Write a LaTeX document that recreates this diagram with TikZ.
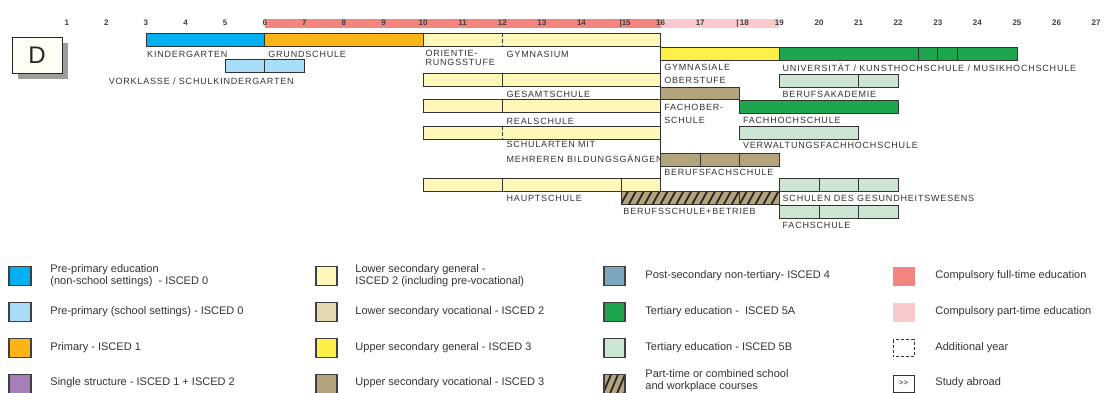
\documentclass[tikz,border=0pt]{standalone}
\usepackage{fontspec}
\setmainfont{Liberation Sans}
\newfontfamily\barfont[LetterSpace=9]{Liberation Sans}

\definecolor{kigablue}{RGB}{0,176,240}
\definecolor{vorblue}{RGB}{168,221,247}
\definecolor{primorange}{RGB}{252,180,22}
\definecolor{singlepurple}{RGB}{166,126,185}
\definecolor{lowgen}{RGB}{255,247,183}
\definecolor{lowvoc}{RGB}{227,216,174}
\definecolor{upgen}{RGB}{255,240,72}
\definecolor{upvoc}{RGB}{180,164,124}
\definecolor{postsec}{RGB}{123,167,188}
\definecolor{tertA}{RGB}{30,166,78}
\definecolor{tertB}{RGB}{204,230,211}
\definecolor{compfull}{RGB}{244,132,127}
\definecolor{comppart}{RGB}{249,201,205}

\begin{document}
\begin{tikzpicture}[
    x=1pt, y=-1pt,
    line width=0.9pt,
    year/.style={font=\fontsize{8}{8}\selectfont\bfseries,text=black!75,inner sep=0pt},
    school/.style={font=\barfont\fontsize{9}{9.5}\selectfont,text=black!80,
        anchor=west,inner sep=0pt,align=left},
    bar/.style={draw=black!80},
    legend/.style={font=\fontsize{11}{12}\selectfont,text=black!80,
        anchor=west,inner sep=0pt,align=left},
    swatch/.style={draw=black!75,line width=1.3pt}
]

\useasboundingbox (0,0) rectangle (1104,392);

% country box
\fill[black!38] (18,43) rectangle (68,79);
\node[draw=black!85,fill=white!96!yellow,line width=1pt,
      minimum width=50pt,minimum height=36pt,inner sep=0pt,
      font=\fontsize{24}{24}\selectfont,text=black!85] (country) at (37,55) {D};

\begin{scope}[xshift=27.2pt,x=39.59pt]

% compulsory schooling and ages
\fill[compfull] (6,19) rectangle (16,28);
\fill[comppart] (16,19) rectangle (19,28);
\foreach \a in {1,...,14,16,17,19,20,...,27}
    \node[year] (age\a) at (\a,23) {\a};
\node[year,anchor=west] (age15) at (14.95,23) {|15};
\node[year,anchor=west] (age18) at (17.9,23) {|\,18};

% pre-primary and primary
\draw[bar,fill=kigablue] (3,33) rectangle (6,46);
\draw[bar,fill=primorange] (6,33) rectangle (10,46);
\draw[bar,fill=vorblue] (5,59) rectangle (7,72);
\draw[bar] (6,59) -- (6,72);
\node[school] (kiga) at (3.02,54) {KINDERGARTEN};
\node[school] (grund) at (6.08,54) {GRUNDSCHULE};
\node[school] (vorklasse) at (2.05,81) {VORKLASSE / SCHULKINDERGARTEN};

% lower secondary
\foreach \r in {33,73,99,126,178}
    \draw[bar,fill=lowgen] (10,\r) rectangle (16,\r+13);
\draw[bar,dash pattern=on 4pt off 2pt] (12,33) -- (12,46);
\draw[bar] (12,73) -- (12,86);
\draw[bar] (12,99) -- (12,112);
\draw[bar,dash pattern=on 4pt off 2pt] (12,126) -- (12,139);
\draw[bar] (12,178) -- (12,191);
\draw[bar] (15,178) -- (15,191);
\draw[bar] (16,33) -- (16,191);
\node[school] (orient) at (10.05,58) {ORIENTIE-\\RUNGSSTUFE};
\node[school] (gymn) at (12.1,54) {GYMNASIUM};
\node[school] (gesamt) at (12.1,94) {GESAMTSCHULE};
\node[school] (real) at (12.1,121) {REALSCHULE};
\node[school] (mehrere) at (12.1,151.5) {SCHULARTEN MIT\\[5.5pt]MEHREREN BILDUNGSGÄNGEN};
\node[school] (haupt) at (12.1,198) {HAUPTSCHULE};

% upper secondary
\draw[bar,fill=upgen] (16,47) rectangle (19,60);
\draw[bar,fill=upvoc] (16,87) rectangle (18,99);
\draw[bar,fill=upvoc] (16,153) rectangle (19,166);
\draw[bar] (17,153) -- (17,166) (18,153) -- (18,166);
\begin{scope}
    \clip (15,191) rectangle (19,204);
    \fill[upvoc] (15,191) rectangle (19,204);
    \foreach \h in {14.8,15.0,...,19.2}
        \draw[line width=1.8pt,black!85] (\h,204) -- (\h+0.18,191);
\end{scope}
\draw[bar] (15,191) rectangle (19,204);
\draw[bar] (18,191) -- (18,204);
\node[school] (oberstufe) at (16.08,73.5) {GYMNASIALE\\[3.5pt]OBERSTUFE};
\node[school] (fos) at (16.08,113.5) {FACHOBER-\\[3.5pt]SCHULE};
\node[school] (bfs) at (16.08,172) {BERUFSFACHSCHULE};
\node[school] (betrieb) at (15.05,211) {BERUFSSCHULE+BETRIEB};

% tertiary
\draw[bar,fill=tertA] (19,47) rectangle (25,60);
\draw[bar] (22.5,47) -- (22.5,60) (23,47) -- (23,60) (23.5,47) -- (23.5,60);
\draw[bar,fill=tertB] (19,74) rectangle (22,87);
\draw[bar] (21,74) -- (21,87);
\draw[bar,fill=tertA] (18,100) rectangle (22,113);
\draw[bar,fill=tertB] (18,126) rectangle (21,139);
\draw[bar,fill=tertB] (19,178) rectangle (22,191);
\draw[bar] (20,178) -- (20,191) (21,178) -- (21,191);
\draw[bar,fill=tertB] (19,205) rectangle (22,218);
\draw[bar] (20,205) -- (20,218) (21,205) -- (21,218);
\node[school] (uni) at (19.07,68) {UNIVERSITÄT / KUNSTHOCHSCHULE / MUSIKHOCHSCHULE};
\node[school] (ba) at (19.07,94) {BERUFSAKADEMIE};
\node[school] (fh) at (18.07,120) {FACHHOCHSCHULE};
\node[school] (vfh) at (18.07,145) {VERWALTUNGSFACHHOCHSCHULE};
\node[school] (gesund) at (19.07,198) {SCHULEN DES GESUNDHEITSWESENS};
\node[school] (fachschule) at (19.07,225) {FACHSCHULE};

\end{scope}

% legend, first column
\draw[swatch,fill=kigablue] (9,266.5) rectangle (31,285.5);
\draw[swatch,fill=vorblue] (9,302.5) rectangle (31,321.5);
\draw[swatch,fill=primorange] (9,338.5) rectangle (31,357.5);
\draw[swatch,fill=singlepurple] (9,374.5) rectangle (31,393.5);
\node[legend] (lg1) at (50,276) {Pre-primary education\\(non-school settings)\ \ - ISCED 0};
\node[legend] (lg2) at (50,312) {Pre-primary (school settings) - ISCED 0};
\node[legend] (lg3) at (50,348) {Primary - ISCED 1};
\node[legend] (lg4) at (50,383) {Single structure - ISCED 1 + ISCED 2};

% legend, second column
\draw[swatch,fill=lowgen] (316,266.5) rectangle (337,285.5);
\draw[swatch,fill=lowvoc] (316,302.5) rectangle (337,321.5);
\draw[swatch,fill=upgen] (316,338.5) rectangle (337,357.5);
\draw[swatch,fill=upvoc] (316,374.5) rectangle (337,393.5);
\node[legend] (lg5) at (355,276) {Lower secondary general -\\ISCED 2 (including pre-vocational)};
\node[legend] (lg6) at (355,312) {Lower secondary vocational - ISCED 2};
\node[legend] (lg7) at (355,348) {Upper secondary general - ISCED 3};
\node[legend] (lg8) at (355,383) {Upper secondary vocational - ISCED 3};

% legend, third column
\draw[swatch,fill=postsec] (604,266.5) rectangle (625,285.5);
\draw[swatch,fill=tertA] (604,302.5) rectangle (625,321.5);
\draw[swatch,fill=tertB] (604,338.5) rectangle (625,357.5);
\begin{scope}
    \clip (604,374.5) rectangle (625,393.5);
    \fill[upvoc] (604,374.5) rectangle (625,393.5);
    \foreach \h in {596,603,...,632}
        \draw[line width=1.8pt,black!85] (\h,393.5) -- (\h+8,374.5);
\end{scope}
\draw[swatch] (604,374.5) rectangle (625,393.5);
\node[legend] (lg9) at (645,276) {Post-secondary non-tertiary- ISCED 4};
\node[legend] (lg10) at (645,312) {Tertiary education -\ \ ISCED 5A};
\node[legend] (lg11) at (645,348) {Tertiary education - ISCED 5B};
\node[legend,anchor=north west] (lg12) at (645,369.5) {Part-time or combined school\\and workplace courses};

% legend, fourth column
\fill[compfull] (893,266.5) rectangle (915,285.5);
\fill[comppart] (893,302.5) rectangle (915,321.5);
\draw[black!80,line width=0.8pt,dash pattern=on 3pt off 2pt] (893,339.5) rectangle (914,356.5);
\draw[black!80,line width=0.8pt] (893,375.5) rectangle (914,392.5);
\node[font=\fontsize{8}{8}\selectfont,text=black!85,inner sep=0pt] (abroad) at (903.5,383.5) {{>}{>}};
\node[legend] (lg13) at (935,276) {Compulsory full-time education};
\node[legend] (lg14) at (935,312) {Compulsory part-time education};
\node[legend] (lg15) at (935,348) {Additional year};
\node[legend] (lg16) at (935,383) {Study abroad};

\end{tikzpicture}
\end{document}
